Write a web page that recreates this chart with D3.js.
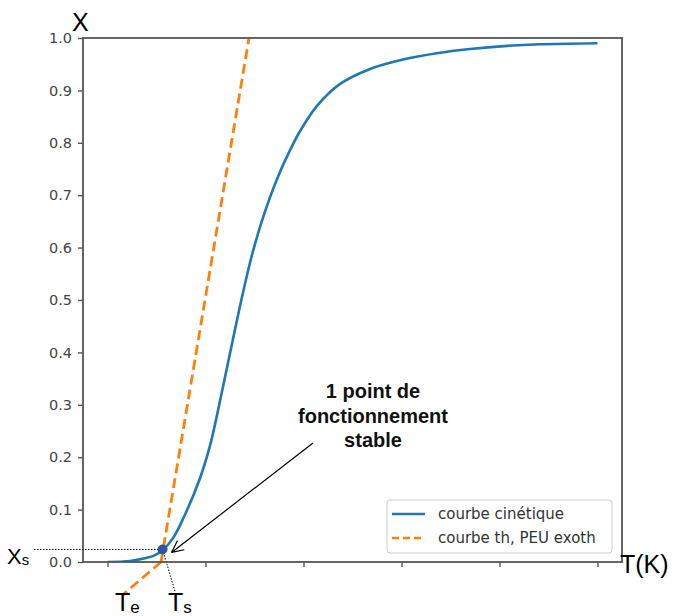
<!DOCTYPE html>
<meta charset="utf-8">
<style>
    html, body { margin: 0; padding: 0; background: #fff; }
    .tick text { font-family: "DejaVu Sans", sans-serif; font-size: 14.5px; fill: #444; }
    .tick line { stroke: #555; stroke-width: 1.4px; }
    .domain { display: none; }
    .lbl { font-family: "Liberation Sans", Arial, sans-serif; fill: #000; }
    .note { font-family: "Liberation Sans", Arial, sans-serif; font-weight: bold; font-size: 20px; fill: #111; }
    .leg { font-family: "DejaVu Sans", sans-serif; font-size: 15px; fill: #333; }
</style>
<svg id="canvas" width="675" height="616"></svg>
<script src="https://cdn.jsdelivr.net/npm/d3@7"></script>
<script>
    // kinetic curve X(T)
    var kinT = [300, 323, 338, 348.5, 356.6, 367, 377, 394, 405, 417, 428, 438, 448, 459, 473, 486, 497, 514, 537, 568, 601.5, 636, 670, 708, 741, 800];
    var kinX = [0.0, 0.002, 0.007, 0.013, 0.023, 0.046, 0.082, 0.158, 0.225, 0.327, 0.425, 0.512, 0.59, 0.659, 0.731, 0.785, 0.824, 0.871, 0.912, 0.941, 0.959, 0.971, 0.979, 0.985, 0.988, 0.990];

    // thermal line (straight)
    var thT = [354.6, 444.4];
    var thX = [0, 1];

    // stable operating point
    var pointT = 356.2;
    var pointX = 0.024;

    var xTicks = [300, 400, 500, 600, 700, 800];
    var yTicks = [0, 0.1, 0.2, 0.3, 0.4, 0.5, 0.6, 0.7, 0.8, 0.9, 1.0];

    var legendLabels = ["courbe cinétique", "courbe th, PEU exoth"];

    var svg = d3.select("svg");
    var pL = 83, pR = 622, pT = 38, pB = 562;

    var x = d3.scaleLinear().domain([275, 825]).range([pL, pR]);
    var y = d3.scaleLinear().domain([0, 1]).range([pB, pT]);

    // axes
    svg.append("g")
        .attr("transform", "translate(0," + pB + ")")
        .call(d3.axisBottom(x).tickValues(xTicks).tickFormat("").tickSize(5).tickPadding(4));
    svg.append("g")
        .attr("transform", "translate(" + pL + ",0)")
        .call(d3.axisLeft(y).tickValues(yTicks).tickFormat(d3.format(".1f")).tickSize(5).tickPadding(6));

    svg.append("defs").append("clipPath").attr("id", "clip")
        .append("rect").attr("x", pL).attr("y", pT).attr("width", pR - pL).attr("height", pB - pT);

    var plot = svg.append("g").attr("clip-path", "url(#clip)");

    var line = d3.line()
        .x(function(d) { return x(d[0]); })
        .y(function(d) { return y(d[1]); })
        .curve(d3.curveCatmullRom.alpha(0.5));

    plot.append("path")
        .datum(d3.zip(kinT, kinX))
        .attr("d", line)
        .attr("fill", "none")
        .attr("stroke", "#1f77b4")
        .attr("stroke-width", 2.6);

    plot.append("path")
        .datum(d3.zip(thT, thX))
        .attr("d", d3.line().x(function(d) { return x(d[0]); }).y(function(d) { return y(d[1]); }))
        .attr("fill", "none")
        .attr("stroke", "#ff7f0e")
        .attr("stroke-width", 2.8)
        .attr("stroke-dasharray", "10,5");

    // hand drawn extension of the thermal line down to Te
    svg.append("line")
        .attr("x1", x(thT[0])).attr("y1", y(0))
        .attr("x2", x(316)).attr("y2", y(-0.062))
        .attr("stroke", "#ff7f0e").attr("stroke-width", 2.8).attr("stroke-dasharray", "10,5");

    // dotted guides to Xs and Ts
    svg.append("line")
        .attr("x1", 34).attr("y1", y(pointX))
        .attr("x2", x(pointT)).attr("y2", y(pointX))
        .attr("stroke", "#000").attr("stroke-width", 1).attr("stroke-dasharray", "1.5,1.5");
    svg.append("line")
        .attr("x1", x(pointT)).attr("y1", y(pointX))
        .attr("x2", x(369)).attr("y2", y(-0.057))
        .attr("stroke", "#000").attr("stroke-width", 1).attr("stroke-dasharray", "1.5,1.5");

    // frame
    svg.append("rect")
        .attr("x", pL).attr("y", pT).attr("width", pR - pL).attr("height", pB - pT)
        .attr("fill", "none").attr("stroke", "#555").attr("stroke-width", 1.8);

    // operating point
    svg.append("circle")
        .attr("cx", x(pointT)).attr("cy", y(pointX)).attr("r", 4.5)
        .attr("fill", "#2f55a4").attr("stroke", "#1f4e9f").attr("stroke-width", 1);

    // legend
    var lg = svg.append("g");
    lg.append("rect")
        .attr("x", 387).attr("y", 500).attr("width", 225).attr("height", 53).attr("rx", 3)
        .attr("fill", "#fff").attr("fill-opacity", 0.8).attr("stroke", "#ccc").attr("stroke-width", 1);
    legendLabels.forEach(function(t, i) {
        var ly = 514 + i * 24;
        lg.append("line")
            .attr("x1", 392).attr("x2", 425).attr("y1", ly).attr("y2", ly)
            .attr("stroke", i === 0 ? "#1f77b4" : "#ff7f0e").attr("stroke-width", 2.6)
            .attr("stroke-dasharray", i === 0 ? null : "7,4");
        lg.append("text").attr("class", "leg").attr("x", 438).attr("y", ly + 5).text(t);
    });

    // annotation arrow
    var tipX = x(pointT) + 9, tipY = y(pointX) + 3;
    var startX = 313, startY = 443;
    svg.append("line")
        .attr("x1", startX).attr("y1", startY).attr("x2", tipX).attr("y2", tipY)
        .attr("stroke", "#000").attr("stroke-width", 1.2);
    var ang = Math.atan2(startY - tipY, startX - tipX);
    [-0.45, 0.45].forEach(function(a) {
        svg.append("line")
            .attr("x1", tipX).attr("y1", tipY)
            .attr("x2", tipX + 13 * Math.cos(ang + a)).attr("y2", tipY + 13 * Math.sin(ang + a))
            .attr("stroke", "#000").attr("stroke-width", 1.2);
    });

    var note = svg.append("text").attr("class", "note").attr("text-anchor", "middle");
    ["1 point de", "fonctionnement", "stable"].forEach(function(t, i) {
        note.append("tspan").attr("x", 373).attr("y", 398 + i * 24.5).text(t);
    });

    // axis titles and hand labels
    svg.append("text").attr("class", "lbl").attr("x", 72).attr("y", 31).style("font-size", "25px").text("X");
    svg.append("text").attr("class", "lbl").attr("x", 620).attr("y", 573).style("font-size", "25px").text("T(K)");

    function subLabel(px, py, main, sub, size) {
        var t = svg.append("text").attr("class", "lbl").attr("x", px).attr("y", py).style("font-size", size + "px");
        t.append("tspan").text(main);
        t.append("tspan").attr("dy", size * 0.06).style("font-size", (size * 0.68) + "px").text(sub);
    }
    subLabel(7, 564, "X", "s", 22);
    subLabel(115, 611, "T", "e", 25);
    subLabel(168, 611, "T", "s", 25);
</script>
